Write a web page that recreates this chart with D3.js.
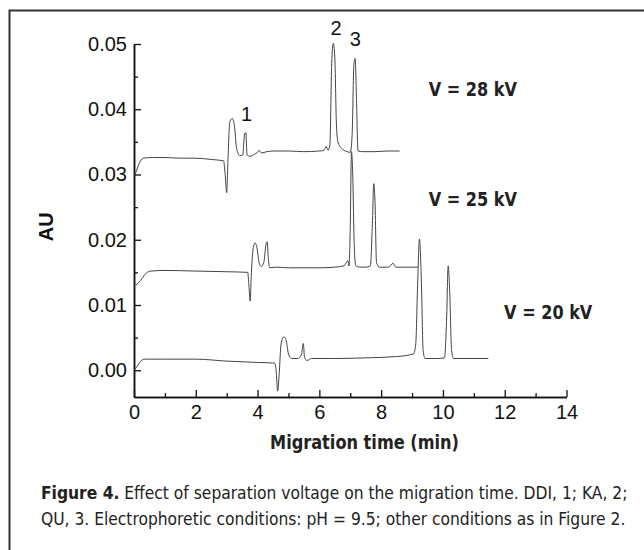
<!DOCTYPE html>
<html><head><meta charset="utf-8">
<script src="https://cdn.jsdelivr.net/npm/d3@7/dist/d3.min.js"></script>
<style>body{margin:0;background:#fff}svg{display:block}</style>
</head><body><svg id="c" width="644" height="550"></svg>
<script>
// ---- data ----
const xTicks = [0,2,4,6,8,10,12,14];
const xMinor = [1,3,5,7,9,11,13];
const yTicks = [0,0.01,0.02,0.03,0.04,0.05];
const yMinor = [0.005,0.015,0.025,0.035,0.045];
const seriesNames = ["V = 28 kV","V = 25 kV","V = 20 kV"];
const t28 = [0,0.05,0.15,0.3,0.6,1,1.5,2,2.5,2.9,2.95,3,3.04,3.1,3.18,3.25,3.32,3.42,3.52,3.58,3.62,3.66,3.75,3.9,4,4.05,4.12,4.3,4.5,5,5.5,6,6.15,6.22,6.28,6.34,6.4,6.45,6.5,6.55,6.6,6.7,6.8,6.9,7,7.06,7.12,7.16,7.2,7.25,7.4,7.8,8.2,8.6];
const v28 = [0.0298,0.0302,0.0315,0.0325,0.0326,0.0326,0.0325,0.0325,0.0323,0.0321,0.03,0.0272,0.032,0.038,0.0386,0.0375,0.034,0.0329,0.033,0.0362,0.0364,0.033,0.0328,0.0331,0.0334,0.0337,0.0333,0.0335,0.0336,0.0336,0.0335,0.0336,0.0337,0.0343,0.0337,0.0345,0.047,0.0501,0.048,0.038,0.035,0.0341,0.0337,0.0335,0.0334,0.036,0.047,0.0478,0.042,0.0336,0.0335,0.0335,0.0336,0.0336];
const t25 = [0,0.1,0.25,0.4,0.55,1,2,3,3.68,3.72,3.76,3.8,3.86,3.92,3.98,4.05,4.12,4.2,4.27,4.31,4.35,4.4,4.6,5,5.5,6,6.5,6.8,6.92,6.96,7,7.04,7.08,7.13,7.18,7.3,7.5,7.65,7.72,7.76,7.8,7.85,7.95,8.25,8.38,8.48,8.8,9.2];
const v25 = [0.013,0.0132,0.014,0.0149,0.0152,0.0153,0.0152,0.0151,0.015,0.013,0.0106,0.015,0.0188,0.0195,0.0188,0.0165,0.0159,0.0165,0.0192,0.0197,0.017,0.0157,0.0158,0.0157,0.0157,0.0157,0.0158,0.016,0.0168,0.016,0.022,0.0335,0.03,0.019,0.016,0.0158,0.0158,0.016,0.023,0.0286,0.026,0.0165,0.0158,0.0158,0.0164,0.0158,0.0158,0.0158];
const t20 = [0,0.1,0.22,0.35,1,2,3,4,4.55,4.6,4.65,4.7,4.76,4.84,4.92,5,5.1,5.3,5.42,5.48,5.52,5.6,5.75,6.5,7.5,8.5,9.05,9.12,9.18,9.24,9.3,9.36,9.42,9.8,10.05,10.12,10.17,10.22,10.28,10.34,11,11.47];
const v20 = [0,0.0006,0.0014,0.0017,0.0017,0.0017,0.0014,0.0012,0.0011,0,-0.0032,-0.0005,0.004,0.0051,0.0047,0.0025,0.0018,0.0018,0.0024,0.0041,0.002,0.0015,0.0018,0.0018,0.0019,0.0021,0.0025,0.004,0.013,0.0201,0.014,0.003,0.0018,0.0018,0.0019,0.008,0.016,0.012,0.003,0.0018,0.0018,0.0018];
const seriesLabelPos = [[9.54,0.043],[9.54,0.0262],[11.98,0.0089]];
const peakLabels = ["1","2","3"];
const peakLabelPos = [[3.64,0.0393],[6.54,0.0524],[7.16,0.0508]];
const captionBold = "Figure 4.";
const caption1 = " Effect of separation voltage on the migration time. DDI, 1; KA, 2;";
const caption2 = "QU, 3. Electrophoretic conditions: pH = 9.5; other conditions as in Figure 2.";

// ---- drawing ----
const svg = d3.select("#c");
const x = d3.scaleLinear([0,14],[134,566.5]);
const y = d3.scaleLinear([-0.0041,0.05],[397,44]);
const sans = "'Liberation Sans', Arial, sans-serif";
const cond = "'DejaVu Sans Condensed','DejaVu Sans',sans-serif";

// frame
svg.append("path").attr("d","M9.5,550V10.5H644").attr("fill","none").attr("stroke","#333").attr("stroke-width",2);

function fitWidth(sel, x0, w, anchor){
  const bb = sel.node().getBBox();
  const s = w / bb.width;
  const ox = anchor==="start" ? bb.x : bb.x + bb.width/2;
  sel.attr("transform",`translate(${x0},0) scale(${s},1) translate(${-ox},0)`);
}

svg.append("g").attr("transform",`translate(0,${y(-0.0041)})`)
  .call(d3.axisBottom(x).tickValues(xTicks).tickSize(-7).tickSizeOuter(0).tickPadding(8).tickFormat(d3.format("d")));
svg.append("g").attr("transform",`translate(0,${y(-0.0041)})`)
  .call(d3.axisBottom(x).tickValues(xMinor).tickSize(-4).tickSizeOuter(0).tickFormat(""));
svg.append("g").attr("transform",`translate(${x(0)},0)`)
  .call(d3.axisLeft(y).tickValues(yTicks).tickSize(-7).tickSizeOuter(0).tickPadding(7).tickFormat(d3.format(".2f")));
svg.append("g").attr("transform",`translate(${x(0)},0)`)
  .call(d3.axisLeft(y).tickValues(yMinor).tickSize(-4).tickSizeOuter(0).tickFormat(""));
svg.selectAll(".domain").attr("stroke","#111").attr("stroke-width",1.5);
svg.selectAll(".tick line").attr("stroke","#111").attr("stroke-width",1.3);
svg.selectAll(".tick text").attr("font-family",sans).attr("font-size",20).attr("fill","#111");

// axis titles
svg.append("text").attr("transform",`translate(53,${y(0.022)}) rotate(-90)`)
  .attr("text-anchor","middle").attr("font-family",sans).attr("font-weight","bold").attr("font-size",20).attr("fill","#111").text("AU");
const xt = svg.append("text").attr("x",0).attr("y",449).attr("text-anchor","middle")
  .attr("font-family",cond).attr("font-weight","bold").attr("font-size",19).attr("fill","#222").text("Migration time (min)");
fitWidth(xt, 364.5, 189, "middle");

// traces
const line = d3.line().x(d=>x(d[0])).y(d=>y(d[1])).curve(d3.curveMonotoneX);
const traces = [[t28,v28],[t25,v25],[t20,v20]];
traces.forEach(([t,v])=>{
  svg.append("path").datum(t.map((ti,i)=>[ti,v[i]])).attr("d",line)
    .attr("fill","none").attr("stroke","#444").attr("stroke-width",1);
});

// peak labels
peakLabels.forEach((l,i)=>{
  svg.append("text").attr("x",x(peakLabelPos[i][0])).attr("y",y(peakLabelPos[i][1])).attr("dy","0.35em")
    .attr("text-anchor","middle").attr("font-family",sans).attr("font-size",20).attr("fill","#111").text(l);
});

// series labels
seriesNames.forEach((n,i)=>{
  const tx = svg.append("text").attr("x",0).attr("y",y(seriesLabelPos[i][1])).attr("dy","0.35em")
    .attr("font-family",cond).attr("font-weight","bold").attr("font-size",19).attr("fill","#222").text(n);
  fitWidth(tx, x(seriesLabelPos[i][0]), 89, "start");
});

// caption
const c1 = svg.append("text").attr("x",0).attr("y",499).attr("font-family",cond).attr("font-size",18.5).attr("fill","#222");
c1.append("tspan").attr("font-weight","bold").text(captionBold);
c1.append("tspan").text(caption1);
fitWidth(c1, 41, 587, "start");
const c2 = svg.append("text").attr("x",0).attr("y",525).attr("font-family",cond).attr("font-size",18.5).attr("fill","#222").text(caption2);
fitWidth(c2, 41, 585, "start");
</script></body></html>
